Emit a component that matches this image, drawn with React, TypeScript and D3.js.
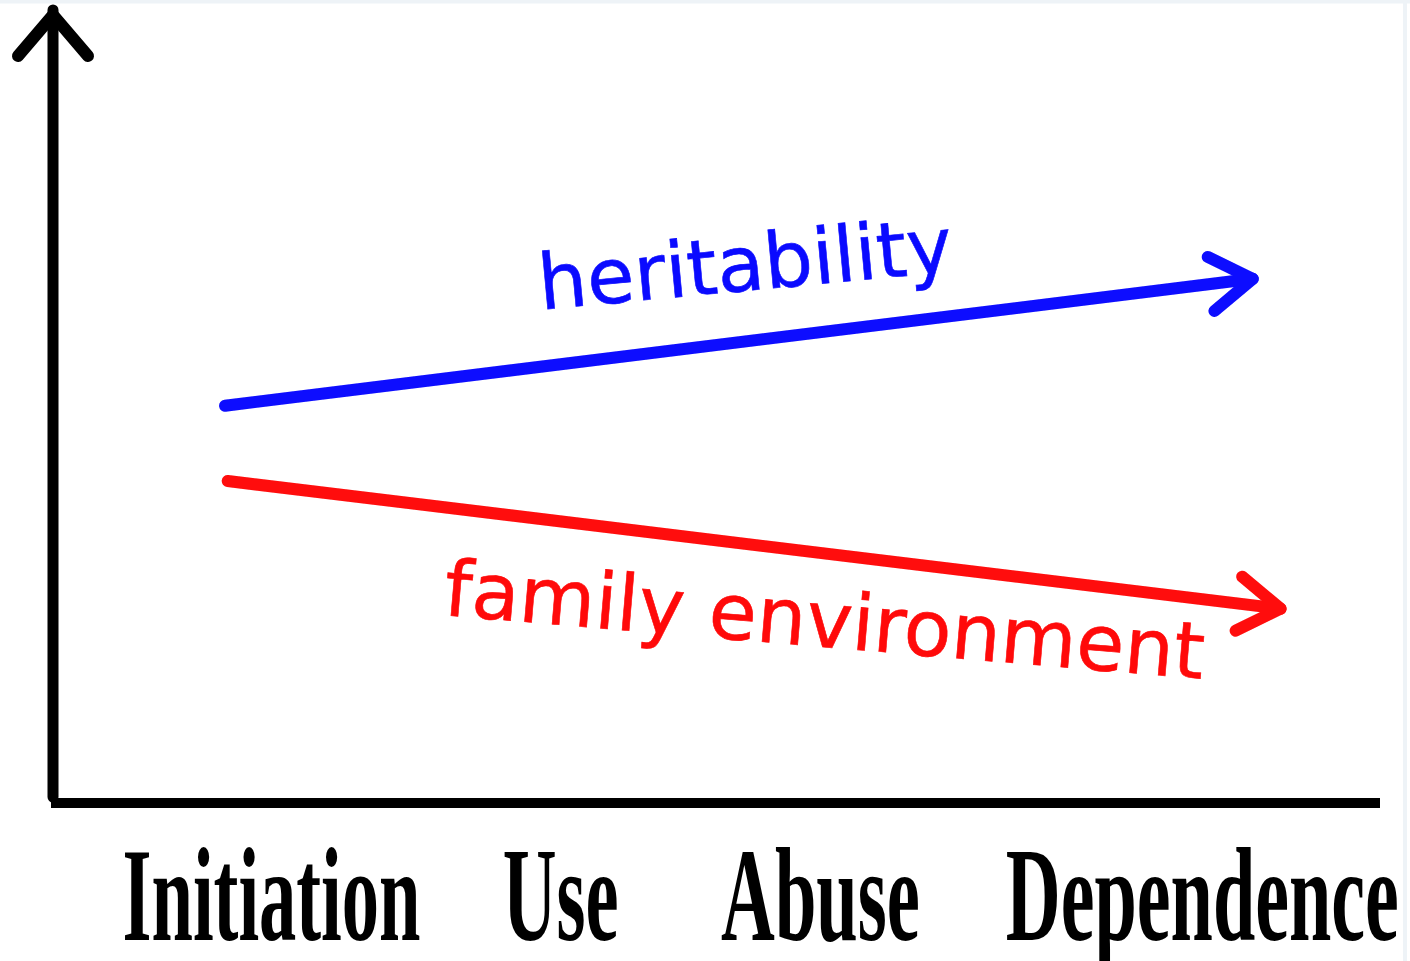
import React from "react";
import * as d3 from "d3";

// stages along the x axis (tick labels) and where their centres sit (0-100 axis units)
const stages = ["Initiation", "Use", "Abuse", "Dependence"];
const stagePos = [16.4, 38.2, 57.8, 86.6];

// the two trends, start and end points in axis units
const heritability = [
  { x: 12.9, y: 50.1 },
  { x: 90.4, y: 66.1 },
];
const familyEnv = [
  { x: 13.1, y: 40.6 },
  { x: 92.5, y: 24.5 },
];

const series = [
  { name: "heritability", color: "#0a0aff", values: heritability, label: { x: 36.7, y: 62.2, rotate: -5.3, size: 77 } },
  { name: "family environment", color: "#ff0a0a", values: familyEnv, label: { x: 29.3, y: 23.7, rotate: 4.8, size: 78 } },
];

const width = 1410;
const height = 961;
const axisLeft = 54;
const axisRight = 1380;
const axisBottom = 803;
const axisTop = 10;

const App = () => {
  const x = d3.scaleLinear().domain([0, 100]).range([axisLeft, axisRight]);
  const y = d3.scaleLinear().domain([0, 100]).range([axisBottom, axisTop]);
  const line = d3
    .line<{ x: number; y: number }>()
    .x((d) => x(d.x))
    .y((d) => y(d.y));

  // two short strokes back from the tip
  const head = (pts: { x: number; y: number }[], len = 50, spread = 33) => {
    const a = pts[pts.length - 2];
    const b = pts[pts.length - 1];
    const tx = x(b.x);
    const ty = y(b.y);
    const ang = Math.atan2(ty - y(a.y), tx - x(a.x)) + Math.PI;
    const s = (spread * Math.PI) / 180;
    const p1 = [tx + len * Math.cos(ang + s), ty + len * Math.sin(ang + s)];
    const p2 = [tx + len * Math.cos(ang - s), ty + len * Math.sin(ang - s)];
    return `M${p1[0]},${p1[1]}L${tx},${ty}L${p2[0]},${p2[1]}`;
  };

  const yAxisTop = y(100);
  // condensed look for the stage names
  const labelScale = 0.56;

  return (
    <svg
      width={width}
      height={height}
      style={{ position: "absolute", left: 0, top: 0, background: "#fff" }}
    >
      <defs>
        <filter id="soft" x="-5%" y="-5%" width="110%" height="110%">
          <feGaussianBlur stdDeviation="0.7" />
        </filter>
      </defs>
      <path d={`M0,1.5H${width}M${width - 5},0V${height}`} stroke="#eef3f7" strokeWidth={4} fill="none" />

      {/* axes */}
      <g stroke="#000" fill="none" strokeLinecap="round" strokeLinejoin="round" filter="url(#soft)">
        <path d={`M${x(0) - 1},${y(0) - 6}V${yAxisTop}`} strokeWidth={11} />
        <path d={`M${x(0) - 36},${yAxisTop + 46}L${x(0) - 1},${yAxisTop + 5}L${x(0) + 34},${yAxisTop + 46}`} strokeWidth={12} />
        <path d={`M${x(0) - 3},${y(0)}H${x(100)}`} strokeWidth={10} strokeLinecap="butt" />
      </g>

      {/* trend arrows */}
      {series.map((s) => (
        <g key={s.name} stroke={s.color} fill="none" strokeWidth={12} strokeLinecap="round" strokeLinejoin="round" filter="url(#soft)">
          <path d={line(s.values) || ""} />
          <path d={head(s.values)} />
        </g>
      ))}

      {series.map((s) => (
        <text
          key={s.name + "-label"}
          transform={`translate(${x(s.label.x)},${y(s.label.y)}) rotate(${s.label.rotate})`}
          fill={s.color}
          stroke={s.color}
          strokeWidth={0.6}
          fontFamily="DejaVu Sans"
          fontSize={s.label.size}
        >
          {s.name}
        </text>
      ))}

      {/* stage labels */}
      {stages.map((st, i) => (
        <text
          key={st}
          transform={`translate(${x(stagePos[i])},940) scale(${i === stages.length - 1 ? 0.572 : labelScale},1)`}
          textAnchor="middle"
          fontFamily="Liberation Serif"
          fontWeight="bold"
          fontSize={133}
          fill="#000"
        >
          {st}
        </text>
      ))}
    </svg>
  );
};

export default App;
